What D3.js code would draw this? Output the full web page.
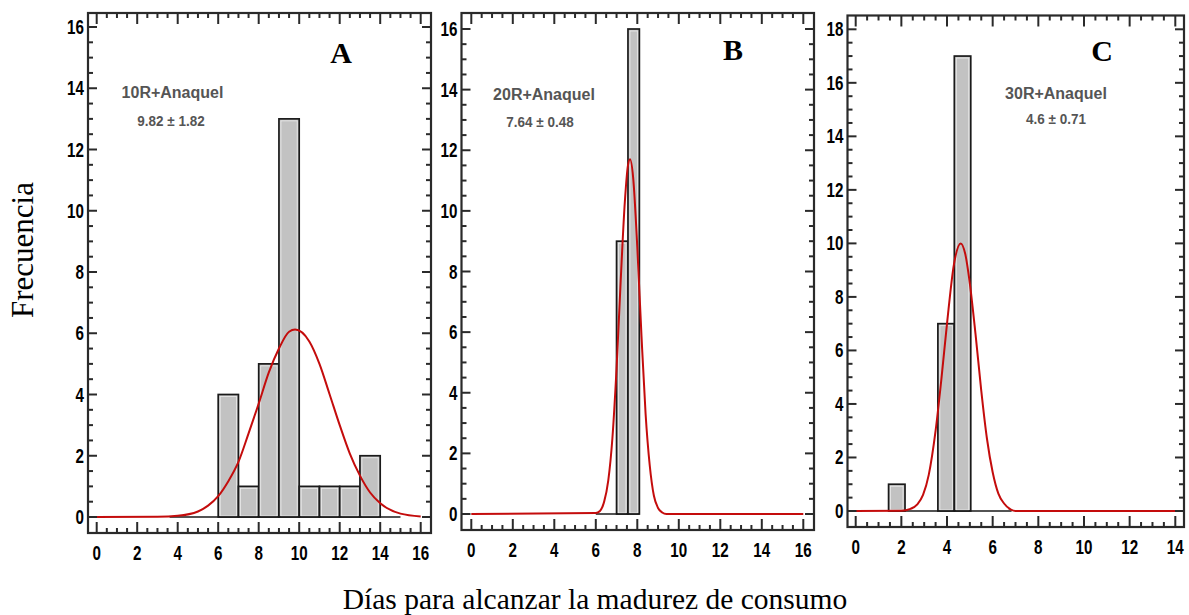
<!DOCTYPE html>
<html>
<head>
<meta charset="utf-8">
<script src="https://cdn.jsdelivr.net/npm/d3@7.9.0/dist/d3.min.js"></script>
<style>
  body { margin: 0; background: #fff; }
  svg { display: block; }
</style>
</head>
<body>
<svg id="chart" width="1189" height="615"></svg>
<script>
// histogram bins (edges) and counts
const edgesA = [6, 7, 8, 9, 10, 11, 12, 13, 14];
const countsA = [4, 1, 5, 13, 1, 1, 1, 2];
const rangeA = [3.6, 15];

const edgesB = [7.0, 7.55, 8.1];
const countsB = [9, 16];
const rangeB = [6.0, 8.1];

const edgesC = [1.44, 2.16, 2.88, 3.6, 4.32, 5.04];
const countsC = [1, 0, 0, 7, 17];
const rangeC = [1.44, 6.83];

// fitted normal curves [dias, frecuencia]
const curveA = [[0, 0], [3, 0.01], [4, 0.04], [5, 0.18], [5.5, 0.37], [6, 0.68], [6.5, 1.17], [7, 1.8],
  [7.5, 2.73], [8, 3.7], [8.5, 4.72], [9, 5.5], [9.5, 6.05], [9.8, 6.12], [10.5, 5.73], [11, 5.0],
  [11.5, 4.01], [12, 3.0], [12.5, 2.07], [13, 1.35], [13.5, 0.8], [14, 0.45], [15, 0.11], [16, 0.02]];
const curveB = [[0, 0], [6.0, 0.03], [6.2, 0.1], [6.4, 0.4], [6.6, 1.1], [6.8, 2.5], [7.0, 4.8], [7.2, 7.7],
  [7.4, 10.3], [7.55, 11.5], [7.65, 11.7], [7.8, 11.1], [8.0, 8.8], [8.2, 5.9], [8.4, 3.3], [8.6, 1.6],
  [8.8, 0.6], [9.0, 0.2], [9.2, 0.05], [9.4, 0], [16, 0]];
const curveC = [[0, 0], [2.0, 0.01], [2.4, 0.08], [2.7, 0.25], [2.95, 0.6], [3.2, 1.35], [3.5, 3.0], [3.75, 4.9],
  [4.0, 7.0], [4.3, 9.2], [4.6, 10.0], [4.8, 9.6], [5.0, 8.5], [5.25, 6.6], [5.5, 4.5], [5.75, 2.7],
  [6.0, 1.45], [6.25, 0.65], [6.5, 0.28], [6.8, 0.05], [7.0, 0], [14, 0]];

const xTicksA = [0, 2, 4, 6, 8, 10, 12, 14, 16];
const yTicksA = [0, 2, 4, 6, 8, 10, 12, 14, 16];
const xTicksB = [0, 2, 4, 6, 8, 10, 12, 14, 16];
const yTicksB = [0, 2, 4, 6, 8, 10, 12, 14, 16];
const xTicksC = [0, 2, 4, 6, 8, 10, 12, 14];
const yTicksC = [0, 2, 4, 6, 8, 10, 12, 14, 16, 18];

const titles = ['10R+Anaquel', '20R+Anaquel', '30R+Anaquel'];
const stats = ['9.82 \u00b1 1.82', '7.64 \u00b1 0.48', '4.6 \u00b1 0.71'];
const letters = ['A', 'B', 'C'];

const panels = [
  { edges: edgesA, counts: countsA, range: rangeA, curve: curveA, xTicks: xTicksA, yTicks: yTicksA,
    frame: { l: 88, r: 431, t: 13, b: 533 }, xr: [96.7, 420.7], yr: [517, 27],
    letter: [341, 63], title: [172.5, 98], stat: [171, 126] },
  { edges: edgesB, counts: countsB, range: rangeB, curve: curveB, xTicks: xTicksB, yTicks: yTicksB,
    frame: { l: 461.5, r: 814, t: 13, b: 530 }, xr: [471.3, 803.3], yr: [514, 29],
    letter: [733, 59.5], title: [544, 100], stat: [540, 126.5] },
  { edges: edgesC, counts: countsC, range: rangeC, curve: curveC, xTicks: xTicksC, yTicks: yTicksC,
    frame: { l: 847.5, r: 1184, t: 15.5, b: 527 }, xr: [855.7, 1175.3], yr: [511, 29.3],
    letter: [1102, 61], title: [1056, 98.5], stat: [1056, 123.5] },
];

const svg = d3.select('#chart');
const tickFont = 'Liberation Sans, Arial, sans-serif';

panels.forEach((p, i) => {
  const xMax = d3.max(p.xTicks);
  const yMax = d3.max(p.yTicks);
  const x = d3.scaleLinear().domain([0, xMax]).range(p.xr);
  const y = d3.scaleLinear().domain([0, yMax]).range(p.yr);
  const g = svg.append('g');
  const f = p.frame;

  // bars
  const bins = p.counts.map((c, k) => ({ x0: p.edges[k], x1: p.edges[k + 1], c })).filter((d) => d.c > 0);
  g.selectAll('rect.bar').data(bins).join('rect')
    .attr('x', (d) => x(d.x0)).attr('y', (d) => y(d.c))
    .attr('width', (d) => x(d.x1) - x(d.x0)).attr('height', (d) => y(0) - y(d.c))
    .attr('fill', '#c2c2c2').attr('stroke', '#1a1a1a').attr('stroke-width', 1.7);
  g.selectAll('rect.hl').data(bins).join('rect')
    .attr('x', (d) => x(d.x0) + 2).attr('y', (d) => y(d.c) + 2)
    .attr('width', (d) => x(d.x1) - x(d.x0) - 4).attr('height', (d) => y(0) - y(d.c) - 3)
    .attr('fill', 'none').attr('stroke', '#ececec').attr('stroke-width', 0.8);

  // baseline of histogram
  g.append('line')
    .attr('x1', x(p.range[0])).attr('x2', x(p.range[1]))
    .attr('y1', y(0)).attr('y2', y(0))
    .attr('stroke', '#1a1a1a').attr('stroke-width', 1.7);

  // fitted curve
  g.append('path')
    .attr('d', d3.line().x((d) => x(d[0])).y((d) => y(d[1])).curve(d3.curveMonotoneX)(p.curve))
    .attr('fill', 'none').attr('stroke', '#c40c0c').attr('stroke-width', 2);

  // frame
  g.append('rect')
    .attr('x', f.l).attr('y', f.t).attr('width', f.r - f.l).attr('height', f.b - f.t)
    .attr('fill', 'none').attr('stroke', '#2a2a2a').attr('stroke-width', 2.2);

  // ticks (all pointing inward)
  const xMinor = d3.range(0, xMax + 0.001, 0.5);
  const yMinor = d3.range(0, yMax + 0.001, 0.5);
  const isMajor = (v) => Math.abs(v / 2 - Math.round(v / 2)) < 1e-6;
  xMinor.forEach((v) => {
    const len = isMajor(v) ? 11 : 5;
    g.append('line').attr('x1', x(v)).attr('x2', x(v)).attr('y1', f.b).attr('y2', f.b - len)
      .attr('stroke', '#2a2a2a').attr('stroke-width', 2);
    g.append('line').attr('x1', x(v)).attr('x2', x(v)).attr('y1', f.t).attr('y2', f.t + len)
      .attr('stroke', '#2a2a2a').attr('stroke-width', 2);
  });
  yMinor.forEach((v) => {
    const len = isMajor(v) ? 9 : 5;
    g.append('line').attr('x1', f.l).attr('x2', f.l + len).attr('y1', y(v)).attr('y2', y(v))
      .attr('stroke', '#2a2a2a').attr('stroke-width', 2);
    g.append('line').attr('x1', f.r).attr('x2', f.r - len).attr('y1', y(v)).attr('y2', y(v))
      .attr('stroke', '#2a2a2a').attr('stroke-width', 2);
  });

  // tick labels (condensed bold)
  g.selectAll('text.xt').data(p.xTicks).join('text')
    .attr('transform', (d) => `translate(${x(d)},${f.b + 27}) scale(0.76,1)`)
    .attr('text-anchor', 'middle')
    .style('font', `bold 20px ${tickFont}`).attr('fill', '#000')
    .text((d) => d);
  g.selectAll('text.yt').data(p.yTicks).join('text')
    .attr('transform', (d) => `translate(${f.l - 4},${y(d) + 7}) scale(0.76,1)`)
    .attr('text-anchor', 'end')
    .style('font', `bold 20px ${tickFont}`).attr('fill', '#000')
    .text((d) => d);

  // annotations
  g.append('text').attr('x', p.letter[0]).attr('y', p.letter[1]).attr('text-anchor', 'middle')
    .style('font', 'bold 30px Liberation Serif, Times New Roman, serif').text(letters[i]);
  g.append('text').attr('x', p.title[0]).attr('y', p.title[1]).attr('text-anchor', 'middle')
    .style('font', `bold 16px ${tickFont}`).attr('fill', '#555').text(titles[i]);
  g.append('text').attr('transform', `translate(${p.stat[0]},${p.stat[1]}) scale(0.9,1)`)
    .attr('text-anchor', 'middle')
    .style('font', `bold 15px ${tickFont}`).attr('fill', '#555').text(stats[i]);
});

// axis titles
svg.append('text')
  .attr('transform', 'translate(33,250) rotate(-90)')
  .attr('text-anchor', 'middle')
  .style('font', '31px Liberation Serif, Times New Roman, serif')
  .text('Frecuencia');
svg.append('text')
  .attr('x', 595).attr('y', 609)
  .attr('text-anchor', 'middle')
  .style('font', '29.5px Liberation Serif, Times New Roman, serif')
  .text('Días para alcanzar la madurez de consumo');
</script>
</body>
</html>
